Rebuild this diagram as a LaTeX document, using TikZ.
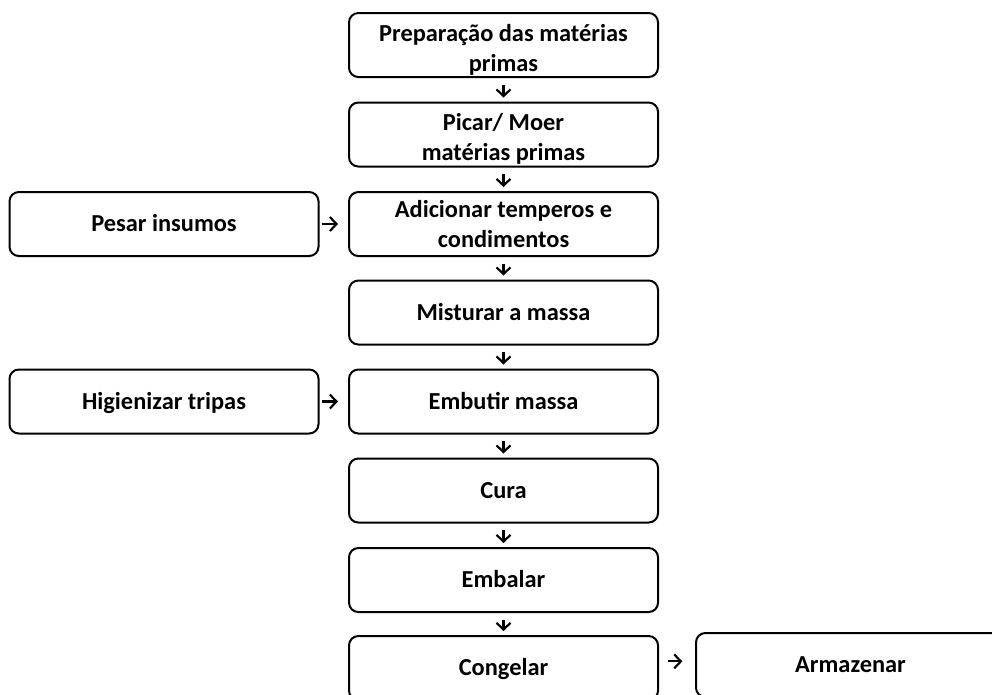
\documentclass[tikz,border=0pt]{standalone}
\usepackage{fontspec}
\setmainfont{Carlito}
\usetikzlibrary{arrows.meta}
\newcommand{\sobe}{\rule{0pt}{19.5pt}}
\tikzset{
  etapa/.style={draw, rounded corners=7pt, line width=1.5pt, minimum width=231.75pt, minimum height=48pt, inner sep=0pt, align=center, font=\bfseries\fontsize{18.3}{22.6}\selectfont},
  linha/.style={text height=11.8pt, text depth=0pt},
  seta/.style={-{Straight Barb[length=5pt,width=10.5pt]}, line width=1.6pt}
}
\begin{document}
\begin{tikzpicture}[x=0.75pt,y=-0.75pt]
\useasboundingbox (0,0) rectangle (992,694);
\clip (0,0) rectangle (992,694);
\fill[white] (0,0) rectangle (992,694);
\node[etapa] (prep) at (503.5,45) {\sobe Preparação das matérias\\primas};
\node[etapa] (picar) at (503.5,134.5) {\sobe Picar/ Moer\\matérias primas};
\node[etapa] (adic) at (503.5,224) {Adicionar temperos e\\condimentos};
\node[etapa, linha] (mist) at (503.5,312.5) {Misturar a massa};
\node[etapa, linha] (emb) at (503.5,401.5) {Embutir massa};
\node[etapa, linha] (cura) at (503.5,490.5) {Cura};
\node[etapa, linha] (embal) at (503.5,580) {Embalar};
\node[etapa, linha] (cong) at (503.5,668) {Congelar};
\node[etapa, linha] (pesar) at (164,224) {Pesar insumos};
\node[etapa, linha] (hig) at (164,401.5) {Higienizar tripas};
\node[etapa, linha] (arm) at (850.5,665) {Armazenar};
\foreach \a/\b in {prep/picar,picar/adic,adic/mist,mist/emb,emb/cura,cura/embal,embal/cong}
  \draw[seta, shorten <=5pt, shorten >=3pt] (\a) -- (\b);
\draw[seta, shorten <=1.5pt, shorten >=7.5pt] (pesar) -- (adic);
\draw[seta, shorten <=1.5pt, shorten >=7.5pt] (hig) -- (emb);
\draw[seta, shorten <=6.5pt, shorten >=9.5pt] ([yshift=5pt]cong.east) -- ([yshift=5pt]cong.east -| arm.west);
\end{tikzpicture}
\end{document}
